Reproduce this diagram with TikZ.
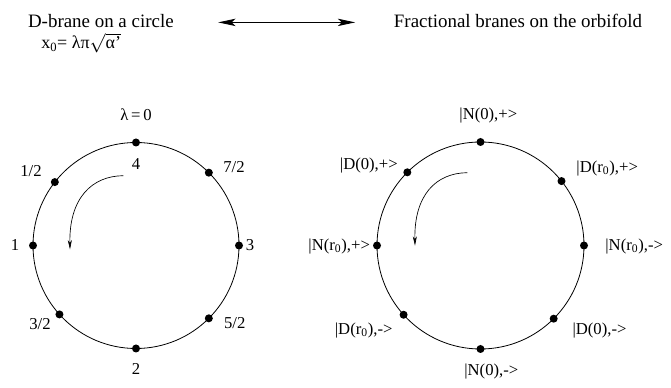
\documentclass[tikz,border=0pt]{standalone}
\usepackage{fontspec}
\setmainfont{Liberation Serif}
\usetikzlibrary{arrows.meta}
\newcommand{\lo}[1]{\textsubscript{#1}}
\tikzset{
	lbl/.style={anchor=base, inner sep=0pt, font=\fontsize{12.5}{14}\selectfont},
	head/.style={anchor=base west, inner sep=0pt, font=\fontsize{14.2}{17}\selectfont},
	turn/.style={-{Stealth[length=7pt, width=3pt, inset=2pt]}, line width=0.5pt},
}
\begin{document}
\begin{tikzpicture}[x=0.75pt, y=0.75pt]
		\useasboundingbox (0, 0) rectangle (671, 388);
		% header
		\node[head] (dcircle) at (27.8, 360.7) {D-brane on a circle};
		\node[head, font=\fontsize{13.5}{16}\selectfont] (xzero) at (41, 339.5) {x\lo{0}= λπ$\sqrt{\mbox{α\smash{’}}}$};
		\node[head] (orbi) at (393.7, 360.7) {Fractional branes on the orbifold};
		\coordinate (al) at (218.2, 365.6);
		\coordinate (ar) at (355.2, 365.6);
		\draw[{Stealth[length=13pt, width=5.5pt, inset=3pt]}-{Stealth[length=13pt, width=5.5pt, inset=3pt]}, line width=0.7pt] (al) -- (ar);
		% D-brane circle
		\coordinate (lc) at (136, 142.5);
		\draw[line width=0.6pt] (lc) circle (103);
		\foreach \a in {90, 142, 180, 222, 270, 315, 0, 45} {
			\fill (lc) ++(\a:103) circle (4);
		}
		\node[lbl] (lzero) at (136, 267.5) {λ\,=\,0};
		\node[lbl] (lfour) at (136, 218.5) {4};
		\node[lbl] (lhalf) at (31, 211.3) {1/2};
		\node[lbl] (lsevh) at (234, 215.5) {7/2};
		\node[lbl] (lone) at (15, 137.3) {1};
		\node[lbl] (lthree) at (250, 137.3) {3};
		\node[lbl] (lthh) at (40, 58) {3/2};
		\node[lbl] (lfivh) at (234.7, 59.7) {5/2};
		\node[lbl] (ltwo) at (136, 13) {2};
		\coordinate (ls) at (123.3, 212.3);
		\coordinate (le) at (70, 138.5);
		\draw[turn] (ls) .. controls (92, 212) and (69, 190) .. (le);
		% orbifold circle
		\coordinate (rc) at (480.5, 142.5);
		\draw[line width=0.6pt] (rc) circle (103.5);
		\foreach \a in {90, 135, 180, 222, 270, 315, 0, 38.5} {
			\fill (rc) ++(\a:103.5) circle (4);
		}
		\node[lbl] (nzp) at (488.3, 268) {|N(0),+>};
		\node[lbl] (dzp) at (368.8, 218) {|D(0),+>};
		\node[lbl] (drp) at (607.2, 215.8) {|D(r\lo{0}),+>};
		\node[lbl] (nrp) at (339.2, 137.4) {|N(r\lo{0}),+>};
		\node[lbl] (nrm) at (634.2, 137.4) {|N(r\lo{0}),->};
		\node[lbl] (drm) at (363.7, 53.6) {|D(r\lo{0}),->};
		\node[lbl] (dzm) at (599.5, 53.9) {|D(0),->};
		\node[lbl] (nzm) at (491.3, 12.9) {|N(0),->};
		\coordinate (rs) at (467.3, 215.3);
		\coordinate (re) at (415, 142.3);
		\draw[turn] (rs) .. controls (436, 215) and (414, 193) .. (re);
	\end{tikzpicture}
\end{document}
